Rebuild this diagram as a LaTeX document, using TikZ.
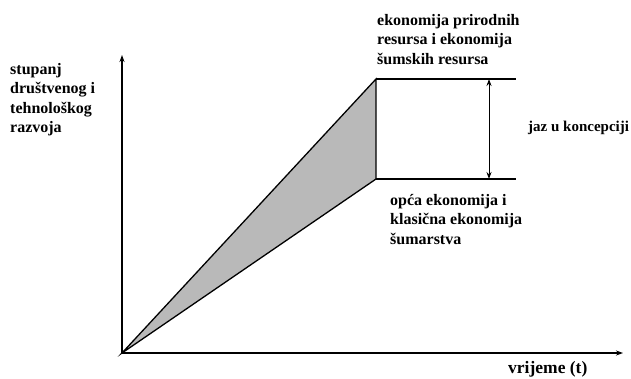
\documentclass[tikz,border=0pt]{standalone}
\usepackage{fontspec}
\setmainfont{Liberation Serif}
\usepackage{tikz}
\usetikzlibrary{arrows.meta}
\tikzstyle{label} = [inner sep=0pt, align=left, font=\fontsize{16}{19.5}\selectfont\bfseries]
\tikzstyle{line} = [line width=1.3pt, black]
\tikzstyle{axis} = [line width=1.2pt, -{Stealth[length=7pt,width=5pt]}]
\tikzstyle{gap} = [line width=1pt, {Stealth[length=7pt,width=5pt]}-{Stealth[length=7pt,width=5pt]}]

\begin{document}
\begin{tikzpicture}[x=1pt, y=-1pt]

        \useasboundingbox (0,0) rectangle (631,378);

        \coordinate (o) at (122,353);
        \coordinate (xend) at (623,353);
        \coordinate (yend) at (122,55);
        \coordinate (a) at (376,79);
        \coordinate (b) at (376,179);
        \coordinate (a2) at (516,79);
        \coordinate (b2) at (516,179);
        \coordinate (gtop) at (489,79);
        \coordinate (gbot) at (489,179);

        \fill [gray!55] (o) -- (a) -- (b) -- cycle;

        \draw [axis] (o) -- (xend);
        \draw [axis] (o) -- (yend);
        \draw [line] (o) -- (a) -- (b) -- cycle;
        \draw [line] (a) -- (a2);
        \draw [line] (b) -- (b2);
        \draw [gap] (gtop) -- (gbot);

        \node (ylab) [label, anchor=north west] at (10,63) {stupanj\\društvenog i\\tehnološkog\\razvoja};
        \node (toplab) [label, anchor=north west] at (377,14) {ekonomija prirodnih\\resursa i ekonomija\\šumskih resursa};
        \node (botlab) [label, anchor=north west] at (390,194) {opća ekonomija i\\klasična ekonomija\\šumarstva};
        \node (gaplab) [label, font=\fontsize{15}{18}\selectfont\bfseries, anchor=west] at (528,128) {jaz u koncepciji};
        \node (xlab) [label, font=\fontsize{17.5}{20}\selectfont\bfseries, anchor=north west] at (508,361) {vrijeme (t)};

    \end{tikzpicture}
\end{document}
